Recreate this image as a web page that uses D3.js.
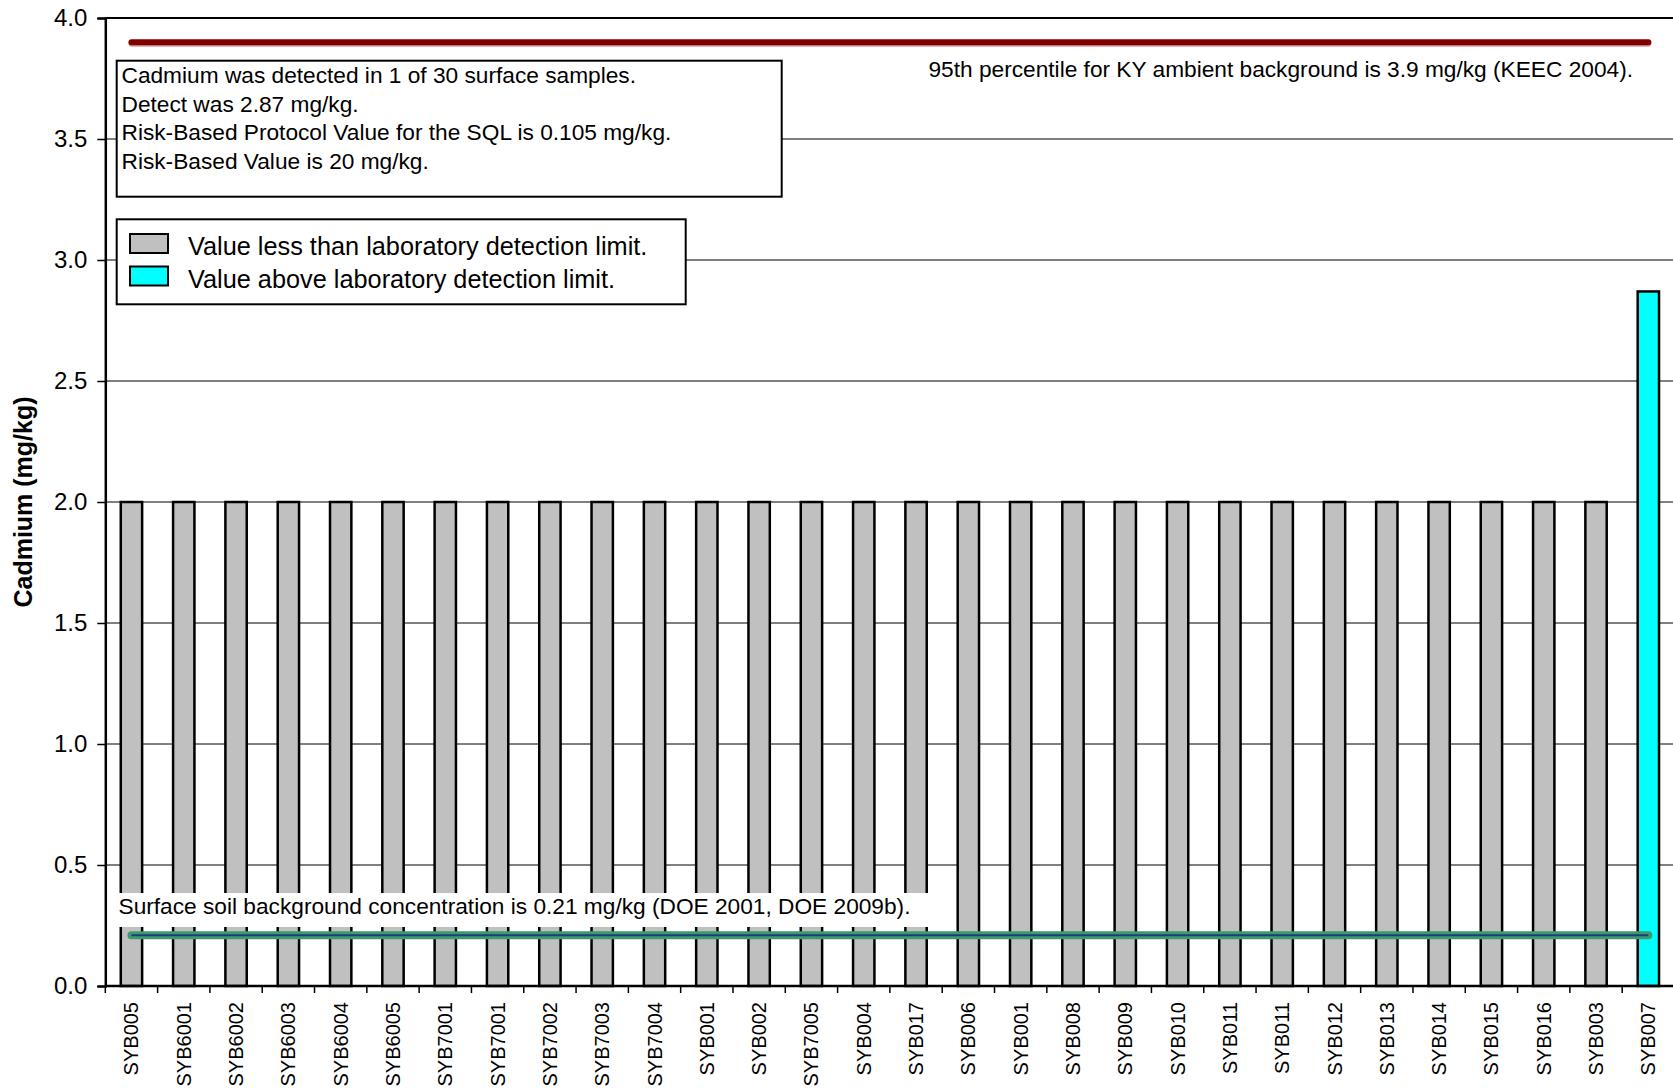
<!DOCTYPE html>
<html>
<head>
<meta charset="utf-8">
<script src="https://cdn.jsdelivr.net/npm/d3@7"></script>
<style>
  body { margin: 0; background: #fff; }
  svg { display: block; font-family: Arial, "Liberation Sans", sans-serif; }
</style>
</head>
<body>
<div id="chart"></div>
<script>
const samples = ['SYB005', 'SYB6001', 'SYB6002', 'SYB6003', 'SYB6004', 'SYB6005', 'SYB7001', 'SYB7001',
  'SYB7002', 'SYB7003', 'SYB7004', 'SYB001', 'SYB002', 'SYB7005', 'SYB004', 'SYB017', 'SYB006', 'SYB001',
  'SYB008', 'SYB009', 'SYB010', 'SYB011', 'SYB011', 'SYB012', 'SYB013', 'SYB014', 'SYB015', 'SYB016',
  'SYB003', 'SYB007'];
const cadmium = [2, 2, 2, 2, 2, 2, 2, 2, 2, 2, 2, 2, 2, 2, 2, 2, 2, 2, 2, 2, 2, 2, 2, 2, 2, 2, 2, 2, 2, 2.87];
const detected = [0, 0, 0, 0, 0, 0, 0, 0, 0, 0, 0, 0, 0, 0, 0, 0, 0, 0, 0, 0, 0, 0, 0, 0, 0, 0, 0, 0, 0, 1];
const yTicks = [0, 0.5, 1, 1.5, 2, 2.5, 3, 3.5, 4];
const ambientBackground = 3.9;
const soilBackground = 0.21;
const noteLines = [
  'Cadmium was detected in 1 of 30 surface samples.',
  'Detect was 2.87 mg/kg.',
  'Risk-Based Protocol Value for the SQL is 0.105 mg/kg.',
  'Risk-Based Value is 20 mg/kg.',
];
const legendItems = [
  { label: 'Value less than laboratory detection limit.', fill: '#c0c0c0' },
  { label: 'Value above laboratory detection limit.', fill: '#00ffff' },
];

const width = 1673;
const height = 1088;
const margin = { top: 18, left: 105.3, bottom: 102 };
const plotRight = 1674.5;

const svg = d3.select('#chart').append('svg')
  .attr('width', width)
  .attr('height', height);

const x = d3.scaleBand()
  .domain(d3.range(samples.length))
  .range([margin.left, plotRight]);
const barW = x.bandwidth() / 2.45;
const barOff = (x.bandwidth() - barW) / 2;

const y = d3.scaleLinear()
  .domain([0, 4])
  .range([height - margin.bottom, margin.top]);

// gridlines
svg.append('g')
  .selectAll('line')
  .data(yTicks.slice(1, -1))
  .join('line')
  .attr('x1', margin.left)
  .attr('x2', plotRight)
  .attr('y1', (d) => y(d))
  .attr('y2', (d) => y(d))
  .attr('stroke', '#000')
  .attr('stroke-width', 1);

// bars
svg.append('g')
  .selectAll('rect')
  .data(cadmium)
  .join('rect')
  .attr('x', (d, i) => x(i) + barOff)
  .attr('y', (d) => y(d))
  .attr('width', barW)
  .attr('height', (d) => y(0) - y(d))
  .attr('fill', (d, i) => (detected[i] ? '#00ffff' : '#c0c0c0'))
  .attr('stroke', '#000')
  .attr('stroke-width', 2.5);

const firstC = x(0) + x.bandwidth() / 2;
const lastC = x(samples.length - 1) + x.bandwidth() / 2;

// ambient background (red) line
svg.append('line')
  .attr('x1', firstC).attr('x2', lastC)
  .attr('y1', y(ambientBackground) + 1.5).attr('y2', y(ambientBackground) + 1.5)
  .attr('stroke', '#d9a0a0').attr('stroke-width', 6).attr('stroke-linecap', 'round');
svg.append('line')
  .attr('x1', firstC).attr('x2', lastC)
  .attr('y1', y(ambientBackground)).attr('y2', y(ambientBackground))
  .attr('stroke', '#800000').attr('stroke-width', 6).attr('stroke-linecap', 'round');

svg.append('text')
  .attr('x', 1633)
  .attr('y', 77)
  .attr('text-anchor', 'end')
  .attr('font-size', 22.7)
  .text('95th percentile for KY ambient background is 3.9 mg/kg (KEEC 2004).');

// note box
const note = svg.append('g');
note.append('rect')
  .attr('x', 116.7).attr('y', 60.7)
  .attr('width', 665).attr('height', 136)
  .attr('fill', '#fff').attr('stroke', '#000').attr('stroke-width', 2);
note.selectAll('text')
  .data(noteLines)
  .join('text')
  .attr('x', 121.5)
  .attr('y', (d, i) => 83 + i * 28.5)
  .attr('font-size', 22.7)
  .text((d) => d);

// legend
const legend = svg.append('g');
legend.append('rect')
  .attr('x', 116.7).attr('y', 219.3)
  .attr('width', 569).attr('height', 85)
  .attr('fill', '#fff').attr('stroke', '#000').attr('stroke-width', 2);
legendItems.forEach((d, i) => {
  legend.append('rect')
    .attr('x', 130).attr('y', 234 + i * 32.5)
    .attr('width', 38).attr('height', 19)
    .attr('fill', d.fill).attr('stroke', '#000').attr('stroke-width', 2);
  legend.append('text')
    .attr('x', 188).attr('y', 255 + i * 32.5)
    .attr('font-size', 25.3)
    .text(d.label);
});

// soil background line with label
svg.append('rect')
  .attr('x', 110).attr('y', 893)
  .attr('width', 818).attr('height', 34)
  .attr('fill', '#fff');
svg.append('text')
  .attr('x', 118.5)
  .attr('y', 913.5)
  .attr('font-size', 22.7)
  .text('Surface soil background concentration is 0.21 mg/kg (DOE 2001, DOE 2009b).');
svg.append('line')
  .attr('x1', firstC).attr('x2', lastC)
  .attr('y1', y(soilBackground)).attr('y2', y(soilBackground))
  .attr('stroke', '#3d9a6e').attr('stroke-width', 8).attr('stroke-linecap', 'round');
svg.append('line')
  .attr('x1', firstC).attr('x2', lastC)
  .attr('y1', y(soilBackground)).attr('y2', y(soilBackground))
  .attr('stroke', '#1f3c78').attr('stroke-width', 2);

// top border
svg.append('line')
  .attr('x1', margin.left).attr('x2', plotRight)
  .attr('y1', margin.top).attr('y2', margin.top)
  .attr('stroke', '#000').attr('stroke-width', 2);

// axes
const yAxis = svg.append('g')
  .attr('transform', `translate(${margin.left},0)`)
  .call(d3.axisLeft(y).tickValues(yTicks).tickFormat(d3.format('.1f')).tickSize(8).tickPadding(10));
yAxis.select('.domain').attr('stroke-width', 2.5);
yAxis.selectAll('.tick line').attr('stroke-width', 1.5);
yAxis.selectAll('text').attr('font-size', 24).attr('fill', '#000');
yAxis.attr('font-family', null);

const xAxis = svg.append('g')
  .attr('transform', `translate(0,${y(0)})`);
xAxis.append('line')
  .attr('x1', margin.left).attr('x2', plotRight)
  .attr('stroke', '#000').attr('stroke-width', 2.5);
xAxis.selectAll('line.tk')
  .data(d3.range(samples.length + 1))
  .join('line')
  .attr('class', 'tk')
  .attr('x1', (i) => margin.left + i * x.step())
  .attr('x2', (i) => margin.left + i * x.step())
  .attr('y1', 0).attr('y2', 7)
  .attr('stroke', '#000').attr('stroke-width', 1.5);
xAxis.selectAll('text')
  .data(samples)
  .join('text')
  .attr('transform', (d, i) => `translate(${x(i) + x.bandwidth() / 2 + 7},16) rotate(-90)`)
  .attr('text-anchor', 'end')
  .attr('font-size', 20)
  .text((d) => d);

svg.append('text')
  .attr('transform', `translate(32,${(y(0) + y(4)) / 2}) rotate(-90)`)
  .attr('text-anchor', 'middle')
  .attr('font-size', 25)
  .attr('font-weight', 'bold')
  .text('Cadmium (mg/kg)');
</script>
</body>
</html>
